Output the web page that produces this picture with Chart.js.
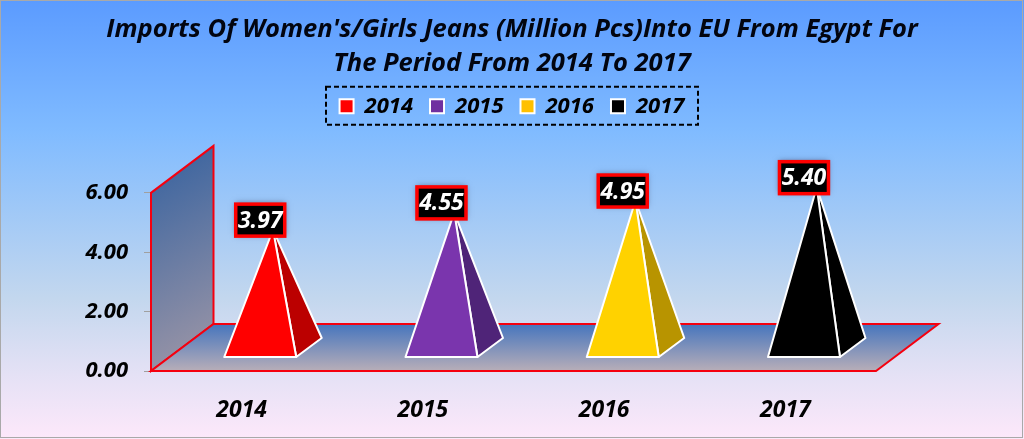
<!DOCTYPE html>
<html lang="en">
<head>
<meta charset="UTF-8">
<title>Imports Of Women's/Girls Jeans</title>
<script src="https://cdn.jsdelivr.net/npm/chart.js"></script>
<style>
    html, body { margin: 0; padding: 0; }
    #chartContainer { width: 1024px; height: 439px; }
</style>
</head>
<body>
<div id="chartContainer"><canvas id="jeansChart"></canvas></div>
<script>
const categories = ['2014', '2015', '2016', '2017'];
const values = [3.97, 4.55, 4.95, 5.40];
const frontColors = ['#ff0000', '#7a35ad', '#ffd200', '#000000'];
const sideColors = ['#bb0000', '#4f2478', '#b89400', '#000000'];
const legendColors = ['#ff0000', '#7030a0', '#ffc000', '#000000'];
const titleLines = ["Imports Of Women's/Girls Jeans (Million Pcs)Into EU From Egypt For", 'The Period From 2014 To 2017'];

const FONT = '"Open Sans", "Noto Sans", sans-serif';
// 3d look: how far the floor goes back, and where a pyramid stands on it
const DEPTH_X = 62.5, DEPTH_Y = 47;
const BASE_DX = 18.6, BASE_DY = 14;
const HALF_W = 36, SIDE_X = 25.5, SIDE_Y = 19;

class PyramidController extends Chart.BarController {
    draw() {
        const ctx = this.chart.ctx;
        const bottom = this.chart.scales.y.bottom;
        this.getMeta().data.forEach((bar, i) => {
            const cx = bar.x + BASE_DX;
            const by = bottom - BASE_DY;
            const apexX = cx + SIDE_X / 2;
            const apexY = bar.y - BASE_DY - SIDE_Y / 2;
            ctx.save();
            ctx.lineWidth = 2;
            ctx.strokeStyle = '#ffffff';
            ctx.lineJoin = 'round';
            ctx.fillStyle = sideColors[i];
            ctx.beginPath();
            ctx.moveTo(cx + HALF_W, by);
            ctx.lineTo(cx + HALF_W + SIDE_X, by - SIDE_Y);
            ctx.lineTo(apexX, apexY);
            ctx.closePath();
            ctx.fill();
            ctx.stroke();
            ctx.fillStyle = frontColors[i];
            ctx.beginPath();
            ctx.moveTo(cx - HALF_W, by);
            ctx.lineTo(cx + HALF_W, by);
            ctx.lineTo(apexX, apexY);
            ctx.closePath();
            ctx.fill();
            ctx.stroke();
            ctx.restore();
        });
        // labels go on top of all pyramids
        this.getMeta().data.forEach((bar, i) => {
            const cx = bar.x + BASE_DX;
            const w = 49, h = 32;
            const top = bar.y - 17 - h;
            ctx.save();
            ctx.shadowColor = 'rgba(30,40,70,0.55)';
            ctx.shadowBlur = 6;
            ctx.shadowOffsetY = -1;
            ctx.fillStyle = '#000000';
            ctx.fillRect(cx - w / 2, top, w, h);
            ctx.shadowColor = 'transparent';
            ctx.strokeStyle = '#ff0000';
            ctx.lineWidth = 3.5;
            ctx.strokeRect(cx - w / 2, top, w, h);
            ctx.fillStyle = '#ffffff';
            ctx.font = 'italic bold 23px ' + FONT;
            ctx.textAlign = 'center';
            ctx.textBaseline = 'middle';
            ctx.fillText(values[i].toFixed(2), cx, top + h / 2 + 1);
            ctx.restore();
        });
    }
}
PyramidController.id = 'pyramid';
PyramidController.defaults = Chart.BarController.defaults;
Chart.register(PyramidController);

const backdrop = {
    id: 'backdrop',
    beforeDraw(chart) {
        const ctx = chart.ctx;
        const g = ctx.createLinearGradient(0, 0, 0, chart.height);
        g.addColorStop(0, '#5b9bff');
        g.addColorStop(0.3, '#80bbff');
        g.addColorStop(0.68, '#c3d7ee');
        g.addColorStop(0.85, '#e4e1f5');
        g.addColorStop(1, '#fde8fa');
        ctx.save();
        ctx.fillStyle = g;
        ctx.fillRect(0, 0, chart.width, chart.height);
        ctx.strokeStyle = '#a9a9a9';
        ctx.lineWidth = 1;
        ctx.strokeRect(0.5, 0.5, chart.width - 2, chart.height - 2);

        // dashed frame round the legend
        ctx.strokeStyle = '#000000';
        ctx.lineWidth = 2;
        ctx.setLineDash([5, 3]);
        ctx.strokeRect(326, chart.legend.top + 8.5, 372, 38);
        ctx.restore();
    },
    beforeDatasetsDraw(chart) {
        const ctx = chart.ctx;
        const { left, right, top, bottom } = chart.chartArea;
        ctx.save();
        ctx.lineWidth = 2;
        ctx.strokeStyle = '#f5000f';
        // back wall
        let g = ctx.createLinearGradient(left, top - DEPTH_Y, left + DEPTH_X + 60, bottom);
        g.addColorStop(0, '#33609f');
        g.addColorStop(1, '#b0a0a8');
        ctx.fillStyle = g;
        ctx.beginPath();
        ctx.moveTo(left, bottom);
        ctx.lineTo(left, top);
        ctx.lineTo(left + DEPTH_X, top - DEPTH_Y);
        ctx.lineTo(left + DEPTH_X, bottom - DEPTH_Y);
        ctx.closePath();
        ctx.fill();
        ctx.stroke();
        // floor
        g = ctx.createLinearGradient(0, bottom - DEPTH_Y, 0, bottom);
        g.addColorStop(0, '#4675bd');
        g.addColorStop(1, '#b8aeb8');
        ctx.fillStyle = g;
        ctx.beginPath();
        ctx.moveTo(left, bottom);
        ctx.lineTo(right, bottom);
        ctx.lineTo(right + DEPTH_X, bottom - DEPTH_Y);
        ctx.lineTo(left + DEPTH_X, bottom - DEPTH_Y);
        ctx.closePath();
        ctx.fill();
        ctx.stroke();
        ctx.restore();
    }
};

new Chart(document.getElementById('jeansChart'), {
    type: 'pyramid',
    data: {
        labels: categories,
        datasets: [{ label: 'Imports', data: values, backgroundColor: frontColors, clip: false }]
    },
    plugins: [backdrop],
    options: {
        responsive: true,
        maintainAspectRatio: false,
        animation: false,
        layout: { padding: 0 },
        plugins: {
            title: {
                display: true,
                text: titleLines,
                color: '#020510',
                font: { family: FONT, size: 25.5, weight: 'bold', style: 'italic', lineHeight: 1.36 },
                padding: { top: 12, bottom: -3 }
            },
            legend: {
                position: 'top',
                onClick: null,
                labels: {
                    boxWidth: 14,
                    boxHeight: 14,
                    padding: 17,
                    color: '#000000',
                    font: { family: FONT, size: 22, weight: 'bold', style: 'italic' },
                    generateLabels: () => categories.map((c, i) => ({
                        text: c,
                        fillStyle: legendColors[i],
                        strokeStyle: '#ffffff',
                        lineWidth: 2,
                        index: i
                    }))
                }
            },
            tooltip: { enabled: false }
        },
        scales: {
            x: {
                offset: true,
                grid: { display: false, drawTicks: false },
                border: { display: false },
                ticks: {
                    padding: 26,
                    color: '#000000',
                    maxRotation: 0,
                    font: { family: FONT, size: 23, weight: 'bold', style: 'italic' }
                },
                afterFit: s => { s.height = 68; }
            },
            y: {
                min: 0,
                max: 6,
                grid: { drawOnChartArea: false, tickLength: 7, color: '#a0a0a0' },
                border: { display: false },
                ticks: {
                    stepSize: 2,
                    padding: 16,
                    color: '#000000',
                    font: { family: FONT, size: 22, weight: 'bold', style: 'italic' },
                    callback: v => v.toFixed(2)
                },
                afterFit: s => { s.width = 151; }
            },
            // empty axes, they only keep the plot area where the title and legend need it
            yRight: {
                position: 'right',
                display: true,
                grid: { display: false },
                border: { display: false },
                ticks: { display: false },
                afterFit: s => { s.width = 148; }
            },
            xTop: {
                type: 'category',
                position: 'top',
                display: true,
                grid: { display: false },
                border: { display: false },
                ticks: { display: false },
                afterFit: s => { s.height = 65.5; }
            }
        }
    }
});
</script>
</body>
</html>
